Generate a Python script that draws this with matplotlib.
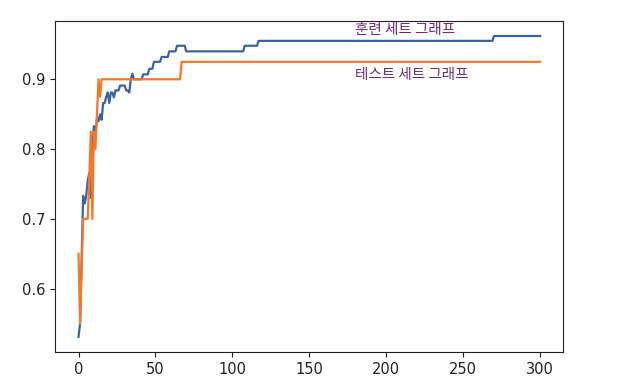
import matplotlib
matplotlib.use("Agg")
import matplotlib.pyplot as plt

plt.rcParams['font.family'] = ['DejaVu Sans']

# Training accuracy (epoch -> accuracy), flat runs given by their endpoints
train_x = [0, 1, 2, 3, 4, 5, 6, 7, 8, 9, 10, 11, 12, 13, 14, 15, 16, 17, 18, 19,
           20, 21, 22, 23, 24, 25, 26, 27, 28, 29, 30, 31, 32, 33, 34, 35, 36,
           41, 42, 45, 46, 48, 49, 53, 54, 58, 59, 63, 64, 69, 70, 107, 108,
           116, 117, 269, 270, 300]
train_y = [0.531, 0.55, 0.64, 0.733, 0.722, 0.733, 0.755, 0.766, 0.73, 0.80,
           0.833, 0.82, 0.845, 0.84, 0.85, 0.842, 0.866, 0.866, 0.875, 0.881,
           0.866, 0.881, 0.881, 0.874, 0.884, 0.884, 0.884, 0.891, 0.891, 0.891,
           0.891, 0.884, 0.884, 0.881, 0.9, 0.908, 0.9,
           0.9, 0.907, 0.907, 0.915, 0.915, 0.925, 0.925, 0.932, 0.932, 0.94,
           0.94, 0.948, 0.948, 0.94, 0.94, 0.948,
           0.948, 0.955, 0.955, 0.962, 0.962]

# Test accuracy
test_x = [0, 1, 2, 3, 4, 5, 6, 7, 8, 9, 10, 11, 12, 13, 14, 15, 66, 67, 300]
test_y = [0.65, 0.55, 0.625, 0.7, 0.7, 0.7, 0.7, 0.76, 0.825, 0.7, 0.825, 0.8,
          0.85, 0.9, 0.875, 0.9, 0.9, 0.925, 0.925]

labels = ["훈련 세트 그래프", "테스트 세트 그래프"]
label_pos = [(180, 0.970), (180, 0.906)]

fig = plt.figure(figsize=(6.3, 3.88), dpi=100)
ax = fig.add_axes([0.088, 0.093, 0.806, 0.853])

ax.plot(train_x, train_y, color='#3b63a3', lw=1.6)
ax.plot(test_x, test_y, color='#f2792a', lw=1.6)

for (tx, ty), lab in zip(label_pos, labels):
    ax.text(tx, ty, lab, color='#6b2f7a', fontsize=10.5, va='center', ha='left',
            family=['Noto Sans CJK KR', 'DejaVu Sans'])

ax.set_xticks([0, 50, 100, 150, 200, 250, 300])
ax.set_yticks([0.6, 0.7, 0.8, 0.9])
ax.tick_params(labelsize=10.5, colors='#222222')
for s in ax.spines.values():
    s.set_color('#222222')

fig.savefig("out.png", dpi=100)
